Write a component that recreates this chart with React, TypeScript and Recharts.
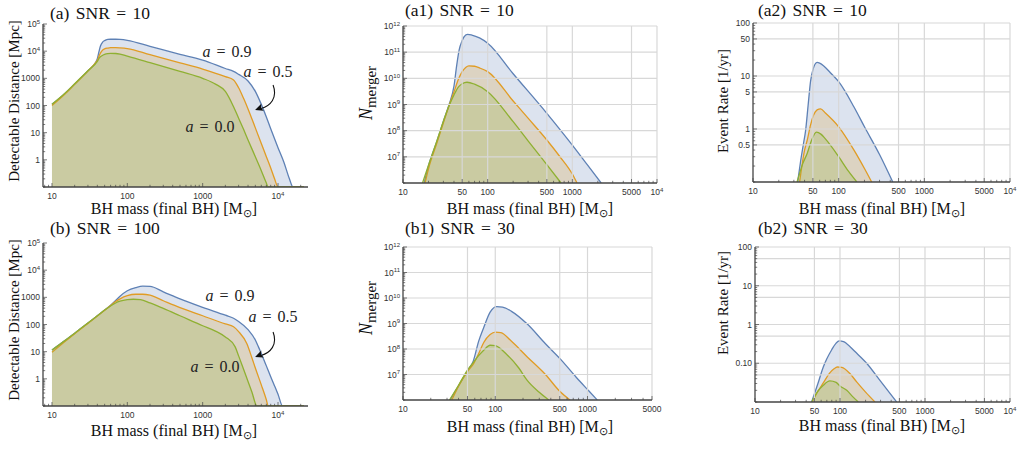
import React from "react";
import { ComposedChart, Area, XAxis, YAxis, ReferenceLine, ReferenceDot } from "recharts";

type Pt = [number, number];
type Tick = [number, string];

// (a) detectable distance [Mpc] vs final BH mass, SNR = 10
const dist10Spin09: Pt[] = [[10, 110], [15, 285], [20, 620], [30, 1900], [38, 3900], [40, 5300], [42, 9500], [44, 15500], [47, 21500], [50, 24500], [55, 27000], [60, 27500], [70, 27500], [80, 27000], [100, 25000], [200, 15000], [500, 7600], [1000, 4650], [2000, 2300], [2570, 1800], [3000, 1400], [4000, 800], [5000, 330], [6000, 110], [7000, 38], [8000, 14], [10000, 2.8], [12000, 0.8], [14000, 0.22], [15800, 0.1], [22000, 0.1]];
const dist10Spin05: Pt[] = [[10, 100], [15, 270], [20, 600], [30, 1850], [38, 3800], [40, 4600], [43, 7500], [46, 10300], [50, 12200], [55, 13000], [60, 13400], [70, 13400], [80, 13200], [100, 12500], [200, 7400], [500, 3700], [1000, 2200], [2000, 1150], [2570, 870], [3000, 450], [3500, 180], [4000, 75], [5000, 15], [6000, 4], [7000, 1.3], [8000, 0.5], [9000, 0.2], [10000, 0.1], [22000, 0.1]];
const dist10Spin00: Pt[] = [[10, 112], [15, 290], [20, 630], [30, 1900], [40, 4200], [43, 5900], [46, 6800], [50, 7600], [55, 8100], [60, 8300], [70, 8200], [80, 7800], [100, 6600], [200, 3800], [500, 1800], [1000, 1000], [1500, 600], [2000, 330], [2570, 90], [3000, 34], [3500, 13], [4000, 5.4], [5000, 1.3], [6000, 0.4], [7000, 0.14], [7400, 0.1], [22000, 0.1]];

// (b) detectable distance, SNR = 100
const dist100Spin09: Pt[] = [[10, 11.5], [15, 26], [20, 48], [30, 114], [40, 210], [50, 340], [60, 510], [70, 760], [80, 1100], [100, 1750], [130, 2300], [160, 2580], [200, 2550], [300, 1600], [500, 880], [1000, 430], [2000, 220], [2570, 170], [3000, 130], [4000, 65], [5000, 27], [5500, 15], [6000, 8.5], [7000, 3], [8000, 1.2], [9000, 0.55], [10000, 0.27], [11500, 0.1], [22000, 0.1]];
const dist100Spin05: Pt[] = [[10, 9.5], [15, 24], [20, 46], [30, 110], [40, 205], [50, 335], [60, 500], [70, 700], [80, 880], [100, 1150], [130, 1300], [160, 1300], [200, 1200], [300, 750], [500, 420], [1000, 210], [2000, 105], [2570, 83], [3000, 55], [3850, 20], [4500, 6], [5000, 2.5], [6000, 0.6], [7000, 0.17], [7400, 0.1], [22000, 0.1]];
const dist100Spin00: Pt[] = [[10, 11.5], [15, 26], [20, 48], [30, 114], [40, 210], [50, 340], [60, 480], [70, 620], [80, 720], [100, 820], [120, 850], [150, 820], [200, 620], [300, 390], [500, 210], [1000, 90], [1500, 56], [2000, 35], [2700, 15], [3000, 7], [3500, 2.2], [4000, 0.8], [4500, 0.33], [5250, 0.1], [22000, 0.1]];

// (a1) N_merger, SNR = 10
const merger10Spin09: Pt[] = [[17.8, 1e6], [20, 4.5e6], [25, 3.7e7], [30, 2.3e8], [35, 1e9], [40, 5e9], [43, 3e10], [46, 1.2e11], [50, 2.8e11], [55, 4.5e11], [58, 4.8e11], [65, 4.5e11], [80, 3.5e11], [100, 2.2e11], [200, 1.5e10], [500, 4.6e8], [1000, 2.8e7], [1500, 5e6], [2190, 1e6]];
const merger10Spin05: Pt[] = [[18.2, 1e6], [20, 3.5e6], [25, 3.2e7], [30, 2e8], [35, 9e8], [40, 3e9], [45, 9e9], [50, 1.8e10], [55, 2.6e10], [60, 3e10], [70, 2.9e10], [80, 2.5e10], [100, 1.8e10], [200, 1.36e9], [300, 3e8], [500, 4.4e7], [700, 1.1e7], [1000, 2.2e6], [1135, 1e6]];
const merger10Spin00: Pt[] = [[17, 1e6], [20, 4.8e6], [25, 3.9e7], [30, 2.3e8], [35, 9e8], [40, 2.3e9], [45, 4.6e9], [50, 6.2e9], [57, 7.1e9], [70, 6e9], [100, 3.1e9], [200, 2.2e8], [300, 4.1e7], [500, 5e6], [736, 1e6]];

// (a2) event rate [1/yr], SNR = 10
const rate10Spin09: Pt[] = [[33.2, 0.1], [36, 0.25], [39, 0.55], [41, 0.9], [44, 2.8], [47, 8], [50, 13], [56, 18], [60, 17.5], [67, 15.5], [80, 11.5], [100, 7.8], [151, 2.6], [200, 1.1], [300, 0.33], [428, 0.1]];
const rate10Spin05: Pt[] = [[35, 0.1], [40, 0.4], [43, 0.62], [47, 1.2], [51, 1.84], [56, 2.3], [61.5, 2.4], [70, 2.0], [100, 1.1], [151, 0.4], [200, 0.18], [243, 0.1]];
const rate10Spin00: Pt[] = [[32.7, 0.1], [38, 0.22], [43, 0.35], [48, 0.6], [55, 0.87], [62, 0.8], [70, 0.65], [100, 0.3], [130, 0.16], [163, 0.1]];

// (b1) N_merger, SNR = 30
const merger30Spin09: Pt[] = [[32.4, 1e6], [40, 3.6e6], [50, 1.4e7], [58, 3.5e7], [66, 2e8], [75, 7e8], [88, 2.8e9], [104, 4.6e9], [120, 4.4e9], [150, 3e9], [221, 9.7e8], [350, 1.6e8], [509, 4e7], [750, 8e6], [1030, 2.3e6], [1275, 1e6]];
const merger30Spin05: Pt[] = [[33.8, 1e6], [40, 3.5e6], [50, 1.3e7], [58, 2.6e7], [66, 6.5e7], [75, 1.8e8], [88, 3.7e8], [100, 4.6e8], [115, 4.4e8], [150, 2e8], [221, 5e7], [350, 1e7], [500, 2.2e6], [646, 1e6]];
const merger30Spin00: Pt[] = [[31.9, 1e6], [40, 3.8e6], [50, 1.5e7], [58, 3e7], [66, 5.5e7], [75, 9e7], [88, 1.4e8], [100, 1.35e8], [134, 6e7], [180, 1.8e7], [221, 6e6], [300, 2e6], [380, 1e6]];

// (b2) event rate, SNR = 30
const rate30Spin09: Pt[] = [[46.4, 0.01], [55, 0.03], [63.6, 0.08], [70, 0.13], [79.6, 0.22], [90, 0.33], [98, 0.376], [110, 0.36], [120, 0.32], [150, 0.2], [206, 0.1], [295, 0.036], [464, 0.01]];
const rate30Spin05: Pt[] = [[47, 0.01], [55, 0.019], [63.6, 0.031], [75, 0.055], [85, 0.072], [93, 0.08], [105, 0.078], [130, 0.055], [157, 0.033], [200, 0.018], [258, 0.01]];
const rate30Spin00: Pt[] = [[46.5, 0.01], [55, 0.019], [63.6, 0.027], [76, 0.035], [90, 0.032], [100, 0.026], [120, 0.02], [140, 0.014], [164, 0.01]];

// tick labels
const distTicks: Tick[] = [[1, "1"], [10, "10"], [100, "100"], [1000, "1000"], [1e4, "10^4"], [1e5, "10^5"]];
const massTicksDist: Tick[] = [[10, "10"], [100, "100"], [1000, "1000"], [1e4, "10^4"]];
const mergerTicks: Tick[] = [[1e7, "10^7"], [1e8, "10^8"], [1e9, "10^9"], [1e10, "10^10"], [1e11, "10^11"], [1e12, "10^12"]];
const massTicks: Tick[] = [[10, "10"], [50, "50"], [100, "100"], [500, "500"], [1000, "1000"], [5000, "5000"], [1e4, "10^4"]];
const massTicksB1: Tick[] = [[10, "10"], [50, "50"], [100, "100"], [500, "500"], [1000, "1000"], [5000, "5000"]];
const rateTicksA2: Tick[] = [[0.5, "0.5"], [1, "1"], [5, "5"], [10, "10"], [50, "50"], [100, "100"]];
const rateTicksB2: Tick[] = [[0.1, "0.10"], [1, "1"], [10, "10"], [100, "100"]];

// grid lines
const gridMass = [50, 100, 500, 1000, 5000, 10000];
const gridMassB1 = [50, 100, 500, 1000, 5000];
const gridMerger = [1e7, 1e8, 1e9, 1e10, 1e11, 1e12];
const gridRateA2 = [0.5, 1, 5, 10, 50, 100];
const gridRateB2 = [0.05, 0.1, 0.5, 1, 5, 10, 50, 100];

const SERIF = "'Liberation Serif', 'Times New Roman', serif";
const SANS = "'Liberation Sans', Arial, sans-serif";
const AXIS = "#444";
const COLORS = ["#5e81b5", "#e19c24", "#8fb032"];
const KEYS = ["s09", "s05", "s00"];

const sameVal = (a: number, b: number) => Math.abs(a - b) <= Math.abs(b) * 1e-6;

function logMinor(lo: number, hi: number, majors: Tick[]) {
  const out: number[] = [];
  for (let e = Math.floor(Math.log10(lo)); e <= Math.ceil(Math.log10(hi)); e++) {
    for (let k = 1; k < 10; k++) {
      const v = Number((k * Math.pow(10, e)).toPrecision(8));
      if (v < lo * 0.9999 || v > hi * 1.0001) continue;
      if (majors.some(([m]) => sameVal(v, m))) continue;
      out.push(v);
    }
  }
  return out;
}

function TickLabel({ label }: { label: string }) {
  const [base, exp] = label.split("^");
  return (
    <>
      {base}
      {exp ? <tspan dy={-3.5} fontSize={6}>{exp}</tspan> : null}
    </>
  );
}

const xTick = (majors: Tick[]) => (p: any) => {
  const hit = majors.find(([v]) => sameVal(p.payload.value, v));
  return (
    <g>
      <line x1={p.x} x2={p.x} y1={p.y} y2={p.y - (hit ? 4 : 2.2)} stroke={AXIS} strokeWidth={0.7} />
      {hit ? (
        <text x={p.x} y={p.y + 12} textAnchor="middle" fontFamily={SANS} fontSize={8.5} fill="#333">
          <TickLabel label={hit[1]} />
        </text>
      ) : null}
    </g>
  );
};

const yTick = (majors: Tick[]) => (p: any) => {
  const hit = majors.find(([v]) => sameVal(p.payload.value, v));
  return (
    <g>
      <line x1={p.x} x2={p.x + (hit ? 4 : 2.2)} y1={p.y} y2={p.y} stroke={AXIS} strokeWidth={0.7} />
      {hit ? (
        <text x={p.x - 3} y={p.y + 3} textAnchor="end" fontFamily={SANS} fontSize={8.5} fill="#333">
          <TickLabel label={hit[1]} />
        </text>
      ) : null}
    </g>
  );
};

const spinNote = (value: string) => (p: any) => (
  <text x={p.cx} y={p.cy + 5} textAnchor="middle" fontFamily={SERIF} fontSize={16} fill="#222" wordSpacing={2}>
    <tspan fontStyle="italic">a</tspan>
    {` = ${value}`}
  </text>
);

const arrowShape = (p: any) => {
  const { cx, cy } = p;
  return (
    <g>
      <path d={`M${cx + 18},${cy - 25} C${cx + 23},${cy - 12} ${cx + 15},${cy - 4} ${cx + 6},${cy - 1.5}`} fill="none" stroke="#111" strokeWidth={1.1} />
      <path d={`M${cx},${cy} L${cx + 8.7},${cy + 0.6} L${cx + 6},${cy - 2} L${cx + 6.2},${cy - 6.4} Z`} fill="#111" />
    </g>
  );
};

interface PanelProps {
  plot: [number, number, number, number]; // left, right, top, bottom of the plot area on the page
  xDomain: [number, number];
  yDomain: [number, number];
  series: Pt[][];
  xTicks: Tick[];
  yTicks: Tick[];
  gridX?: number[];
  gridY?: number[];
  notes?: React.ReactElement[];
}

function Panel({ plot, xDomain, yDomain, series, xTicks, yTicks, gridX = [], gridY = [], notes = [] }: PanelProps) {
  const [left, right, top, bottom] = plot;
  const rows = series
    .flatMap((s, i) => s.map(([m, v]) => ({ m, [KEYS[i]]: v })))
    .sort((p, q) => p.m - q.m);
  const xAll = [...xTicks.map((t) => t[0]), ...logMinor(xDomain[0], xDomain[1], xTicks)].sort((a, b) => a - b);
  const yAll = [...yTicks.map((t) => t[0]), ...logMinor(yDomain[0], yDomain[1], yTicks)].sort((a, b) => a - b);
  return (
    <div style={{ position: "absolute", left: left - 40, top: top - 12 }}>
      <ComposedChart
        width={right - left + 52}
        height={bottom - top + 32}
        data={rows}
        margin={{ top: 12, right: 12, bottom: 0, left: 0 }}
      >
        {gridX.map((v) => (
          <ReferenceLine key={`gx${v}`} x={v} stroke="#d8d8d8" strokeWidth={1.2} />
        ))}
        {gridY.map((v) => (
          <ReferenceLine key={`gy${v}`} y={v} stroke="#d8d8d8" strokeWidth={1.2} />
        ))}
        {series.map((_, i) => (
          <Area
            key={KEYS[i]}
            dataKey={KEYS[i]}
            type="monotone"
            stroke={COLORS[i]}
            strokeWidth={1.3}
            fill={COLORS[i]}
            fillOpacity={0.22}
            baseValue={yDomain[0]}
            connectNulls
            dot={false}
            activeDot={false}
            isAnimationActive={false}
          />
        ))}
        {notes}
        <XAxis
          dataKey="m"
          type="number"
          scale="log"
          domain={xDomain}
          allowDataOverflow
          ticks={xAll}
          interval={0}
          height={20}
          tickSize={0}
          tickMargin={0}
          tickLine={false}
          axisLine={{ stroke: AXIS, strokeWidth: 1.3 }}
          tick={xTick(xTicks)}
        />
        <YAxis
          type="number"
          scale="log"
          domain={yDomain}
          allowDataOverflow
          ticks={yAll}
          interval={0}
          width={40}
          tickSize={0}
          tickMargin={0}
          tickLine={false}
          axisLine={{ stroke: AXIS, strokeWidth: 1.3 }}
          tick={yTick(yTicks)}
        />
      </ComposedChart>
    </div>
  );
}

const notesA = [
  <ReferenceDot key="n09" x={2110} y={9330} r={0} shape={spinNote("0.9")} />,
  <ReferenceDot key="n05" x={7380} y={1710} r={0} shape={spinNote("0.5")} />,
  <ReferenceDot key="n00" x={1250} y={16.2} r={0} shape={spinNote("0.0")} />,
  <ReferenceDot key="arr" x={4960} y={68} r={0} shape={arrowShape} />,
];
const notesB = [
  <ReferenceDot key="n09" x={2310} y={1120} r={0} shape={spinNote("0.9")} />,
  <ReferenceDot key="n05" x={8610} y={189} r={0} shape={spinNote("0.5")} />,
  <ReferenceDot key="n00" x={1460} y={2.7} r={0} shape={spinNote("0.0")} />,
  <ReferenceDot key="arr" x={4960} y={6.4} r={0} shape={arrowShape} />,
];

const Title = ({ x, y, text }: { x: number; y: number; text: string }) => (
  <text x={x} y={y} fontFamily={SERIF} fontSize={17.5} wordSpacing={2} fill="#111">
    {text}
  </text>
);

const MassLabel = ({ x, y }: { x: number; y: number }) => (
  <text x={x} y={y} textAnchor="middle" fontFamily={SERIF} fontSize={16} fill="#111">
    BH mass (final BH) [M<tspan dy={3} fontSize={11}>⊙</tspan>
    <tspan dy={-3}>]</tspan>
  </text>
);

const VLabel = ({ x, y, children, size = 15 }: { x: number; y: number; children: React.ReactNode; size?: number }) => (
  <text transform={`translate(${x},${y}) rotate(-90)`} textAnchor="middle" fontFamily={SERIF} fontSize={size} fill="#111">
    {children}
  </text>
);

const NLabel = ({ x, y }: { x: number; y: number }) => (
  <VLabel x={x} y={y} size={18}>
    <tspan fontStyle="italic">N</tspan>
    <tspan dy={3.5} fontSize={15}>merger</tspan>
  </VLabel>
);

export default function App() {
  return (
    <div style={{ position: "absolute", left: 0, top: 0, width: 1022, height: 449, background: "#fff", overflow: "hidden" }}>
      <Panel plot={[43, 308, 24, 187]} xDomain={[7.6, 25000]} yDomain={[0.1, 1e5]}
        series={[dist10Spin09, dist10Spin05, dist10Spin00]} xTicks={massTicksDist} yTicks={distTicks} notes={notesA} />
      <Panel plot={[43, 308, 243, 406]} xDomain={[7.6, 25000]} yDomain={[0.1, 1e5]}
        series={[dist100Spin09, dist100Spin05, dist100Spin00]} xTicks={massTicksDist} yTicks={distTicks} notes={notesB} />
      <Panel plot={[403, 657, 26, 183]} xDomain={[10, 1e4]} yDomain={[1e6, 1e12]}
        series={[merger10Spin09, merger10Spin05, merger10Spin00]} xTicks={massTicks} yTicks={mergerTicks}
        gridX={gridMass} gridY={gridMerger} />
      <Panel plot={[403, 652, 247, 400]} xDomain={[10, 5000]} yDomain={[1e6, 1e12]}
        series={[merger30Spin09, merger30Spin05, merger30Spin00]} xTicks={massTicksB1} yTicks={mergerTicks}
        gridX={gridMassB1} gridY={gridMerger} />
      <Panel plot={[753, 1010, 23, 182]} xDomain={[10, 1e4]} yDomain={[0.1, 100]}
        series={[rate10Spin09, rate10Spin05, rate10Spin00]} xTicks={massTicks} yTicks={rateTicksA2}
        gridX={gridMass} gridY={gridRateA2} />
      <Panel plot={[755, 1010, 247, 402]} xDomain={[10, 1e4]} yDomain={[0.01, 100]}
        series={[rate30Spin09, rate30Spin05, rate30Spin00]} xTicks={massTicks} yTicks={rateTicksB2}
        gridX={gridMass} gridY={gridRateB2} />

      <svg width={1022} height={449} style={{ position: "absolute", left: 0, top: 0, pointerEvents: "none" }}>
        <Title x={50} y={19} text="(a) SNR = 10" />
        <Title x={405} y={16} text="(a1) SNR = 10" />
        <Title x={758} y={16} text="(a2) SNR = 10" />
        <Title x={50} y={234} text="(b) SNR = 100" />
        <Title x={405} y={234} text="(b1) SNR = 30" />
        <Title x={758} y={234} text="(b2) SNR = 30" />

        <VLabel x={19} y={101}>Detectable Distance [Mpc]</VLabel>
        <VLabel x={19} y={320}>Detectable Distance [Mpc]</VLabel>
        <NLabel x={372} y={93} />
        <NLabel x={372} y={308} />
        <VLabel x={728} y={101}>Event Rate [1/yr]</VLabel>
        <VLabel x={728} y={303}>Event Rate [1/yr]</VLabel>

        <MassLabel x={174} y={214} />
        <MassLabel x={530} y={214} />
        <MassLabel x={882} y={214} />
        <MassLabel x={174} y={436} />
        <MassLabel x={530} y={432} />
        <MassLabel x={882} y={431} />
      </svg>
    </div>
  );
}
